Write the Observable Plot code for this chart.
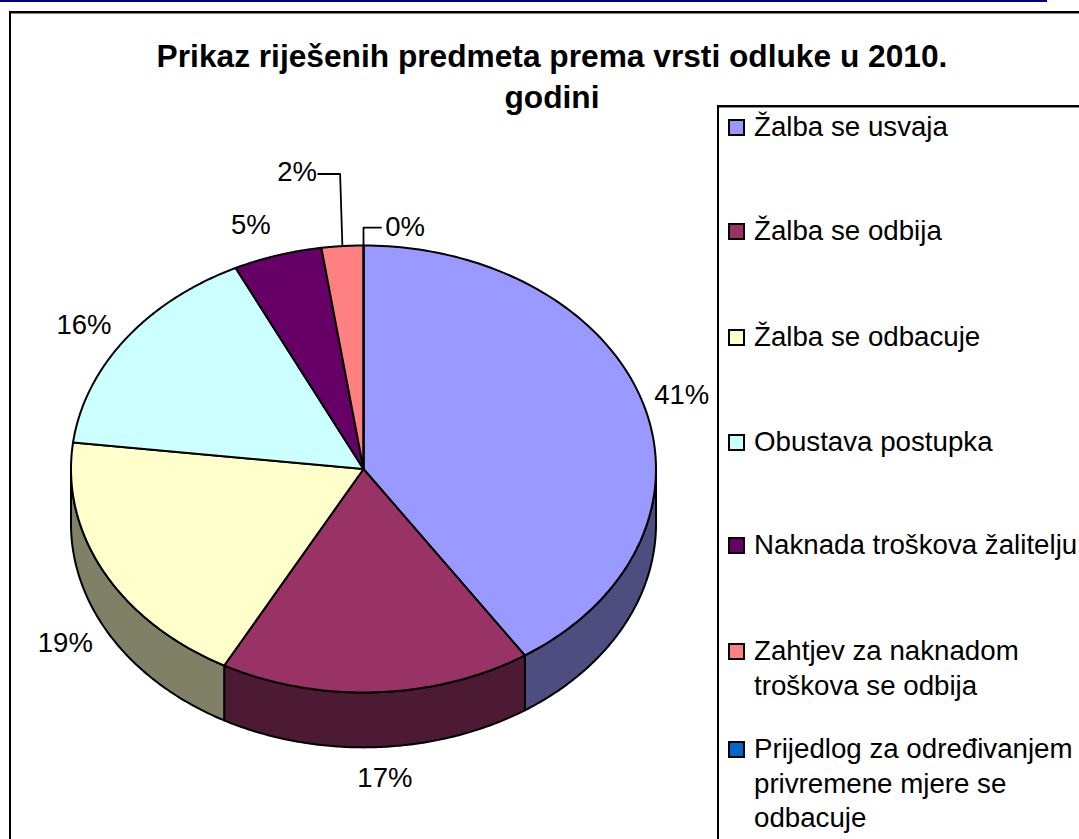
<!DOCTYPE html>
<html>
<head>
<meta charset="utf-8">
<script src="https://cdn.jsdelivr.net/npm/d3@7"></script>
<script src="https://cdn.jsdelivr.net/npm/@observablehq/plot@0.6"></script>
<style>
  html, body { margin: 0; padding: 0; background: #fff; overflow: hidden; }
  #page { position: relative; width: 1079px; height: 839px; overflow: hidden; font-family: "Liberation Sans", Arial, sans-serif; color: #000; }
  #topbar { position: absolute; left: 0; top: 0; width: 1047px; height: 2px; background: #000080; }
  #frame { position: absolute; left: 9px; top: 11px; width: 1200px; height: 1000px; border: 2px solid #000; box-sizing: border-box; box-shadow: inset 0 1px 0 #888; }
  #plot { position: absolute; left: 0; top: 0; }
  #title { position: absolute; left: 100px; top: 36px; width: 904px; text-align: center; font-weight: bold; font-size: 31.7px; line-height: 41px; }
  #legend { position: absolute; left: 717px; top: 105px; width: 600px; height: 900px; border: 2px solid #000; box-sizing: border-box; background: #fff; box-shadow: inset 0 1px 0 #888; }
  .entry { position: absolute; left: 9px; font-size: 27.7px; line-height: 34.5px; white-space: pre; }
  .swatch { position: absolute; left: 0; top: 9px; width: 17px; height: 17px; border: 2px solid #000; box-sizing: border-box; }
  .entry span.t { position: absolute; left: 26px; top: 0; }
</style>
</head>
<body>
<div id="page">
  <div id="topbar"></div>
  <div id="frame"></div>
  <div id="plot"></div>
  <div id="title">Prikaz riješenih predmeta prema vrsti odluke u 2010.<br>godini</div>
  <div id="legend"></div>
</div>
<script>
const categories = ["Žalba se usvaja", "Žalba se odbija", "Žalba se odbacuje", "Obustava postupka", "Naknada troškova žalitelju", "Zahtjev za naknadom troškova se odbija", "Prijedlog za određivanjem privremene mjere se odbacuje"];
const values = [40.7, 17.2, 19.0, 15.9, 4.9, 2.3, 0.0];
const percentLabels = ["41%", "17%", "19%", "16%", "5%", "2%", "0%"];
const colors = ["#9999FF", "#993366", "#FFFFCC", "#CCFFFF", "#660066", "#FF8080", "#0066CC"];
const legendLines = [["Žalba se usvaja"], ["Žalba se odbija"], ["Žalba se odbacuje"], ["Obustava postupka"], ["Naknada troškova žalitelju"], ["Zahtjev za naknadom", "troškova se odbija"], ["Prijedlog za određivanjem", "privremene mjere se", "odbacuje"]];

// Layout only
const legendTops = [3, 107, 213, 318, 421, 527, 625];
const depth = 55 / 224;           // wall height in radius units of the y scale
const labelReach = 1.14;          // labels sit just beyond the rim
const labelNudge = [[-0.004, 0.00], [0.023, 0.00], [-0.007, 0.01], [-0.027, 0.016], [-0.05, 0.00], [-0.145, -0.19], [0.142, 0.06]];
const leaderElbow = [null, null, null, null, null, [-0.08, -1.32], [0, -1.08]];
const leaderEnd = [null, null, null, null, null, [-0.155, -1.32], [0.06, -1.08]];

const total = d3.sum(values);
const ends = d3.cumsum(values).map(v => v / total * 2 * Math.PI);
const starts = ends.map((e, i) => (i ? ends[i - 1] : 0));
const rimX = a => Math.sin(a);
const rimY = a => -Math.cos(a);
const arc = (a0, a1) => d3.range(0, 121).map(k => a0 + (a1 - a0) * k / 120);

// top faces
const topFaces = categories.flatMap((category, i) => {
  const rim = arc(starts[i], ends[i]).map(a => ({category, x: rimX(a), y: rimY(a)}));
  return [{category, x: 0, y: 0}, ...rim, {category, x: 0, y: 0}];
});

// visible front walls
const walls = categories.flatMap((category, i) => {
  const a0 = Math.max(starts[i], Math.PI / 2), a1 = Math.min(ends[i], 3 * Math.PI / 2);
  if (a1 <= a0) return [];
  const upper = arc(a0, a1).map(a => ({category, x: rimX(a), y: rimY(a)}));
  const lower = arc(a0, a1).reverse().map(a => ({category, x: rimX(a), y: rimY(a) + depth}));
  return [...upper, ...lower, upper[0]];
});

// percentage labels
const labels = categories.map((category, i) => {
  const mid = (starts[i] + ends[i]) / 2;
  const below = rimY(mid) > 0 ? depth : 0;
  return {
    label: percentLabels[i],
    x: labelReach * rimX(mid) + labelNudge[i][0],
    y: labelReach * rimY(mid) + below + labelNudge[i][1]
  };
});

// leader lines for the two thin slices
const leaders = categories.flatMap((category, i) => {
  if (!leaderElbow[i]) return [];
  const mid = (starts[i] + ends[i]) / 2;
  return [
    {category, x: leaderEnd[i][0], y: leaderEnd[i][1]},
    {category, x: i === 6 ? rimX(mid) : leaderElbow[i][0], y: leaderElbow[i][1]},
    {category, x: rimX(mid), y: rimY(mid)}
  ];
});

const chart = Plot.plot({
  width: 1079,
  height: 839,
  margin: 0,
  style: {background: "transparent", fontFamily: "'Liberation Sans', Arial, sans-serif"},
  x: {domain: [-1, 1], range: [70.5, 655.5], axis: null},
  y: {domain: [-1, 1], range: [245, 692], axis: null},
  color: {domain: categories, range: colors},
  marks: [
    Plot.line(walls, {x: "x", y: "y", z: "category", fill: "black", stroke: "none"}),
    Plot.line(walls, {x: "x", y: "y", z: "category", fill: "category", fillOpacity: 0.5, stroke: "black", strokeWidth: 2}),
    Plot.line(topFaces, {x: "x", y: "y", z: "category", fill: "category", stroke: "black", strokeWidth: 2}),
    Plot.line(leaders, {x: "x", y: "y", z: "category", stroke: "black", strokeWidth: 1.8}),
    Plot.text(labels, {x: "x", y: "y", text: "label", fontSize: 27.5, fill: "black"})
  ]
});
document.getElementById("plot").appendChild(chart);

// legend
const legend = document.getElementById("legend");
categories.forEach((category, i) => {
  const entry = document.createElement("div");
  entry.className = "entry";
  entry.style.top = legendTops[i] + "px";
  const sw = document.createElement("div");
  sw.className = "swatch";
  sw.style.background = colors[i];
  entry.appendChild(sw);
  legendLines[i].forEach((line, j) => {
    const t = document.createElement("span");
    t.className = "t";
    t.style.top = (j * 34.5) + "px";
    t.textContent = line;
    entry.appendChild(t);
  });
  legend.appendChild(entry);
});
</script>
</body>
</html>
